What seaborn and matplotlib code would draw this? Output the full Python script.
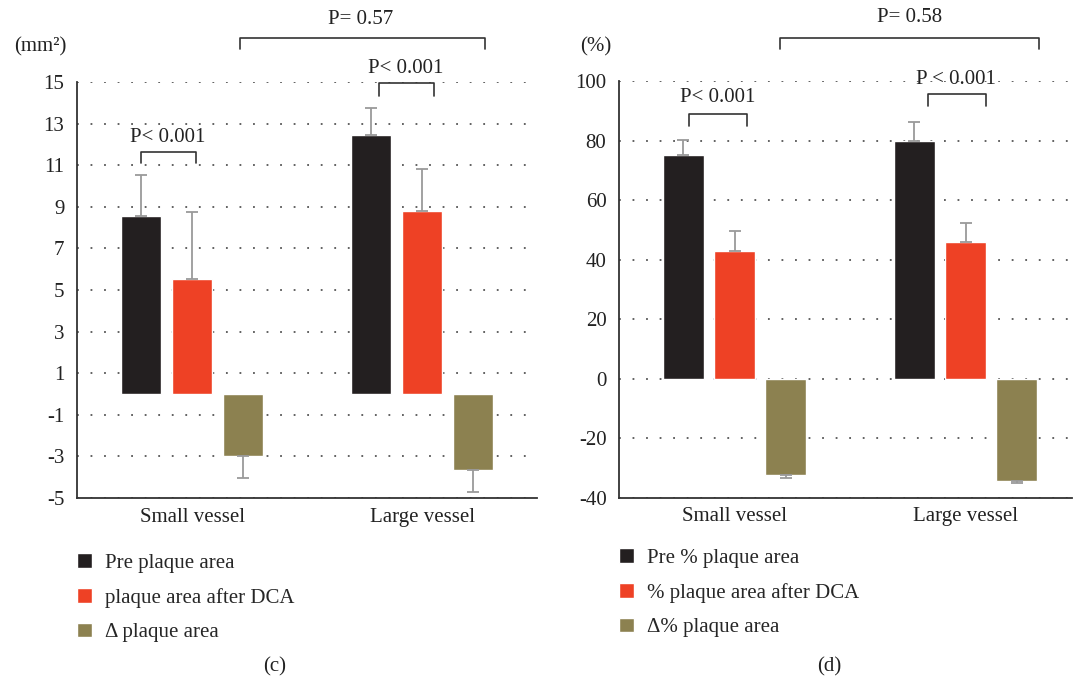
import matplotlib
matplotlib.use('Agg')
import matplotlib.pyplot as plt
import seaborn as sns
import pandas as pd

vessels = ['Small vessel', 'Large vessel']

# Panel (c): plaque area (mm2)
area_labels = ['Pre plaque area', 'plaque area after DCA', 'Δ plaque area']
area_pre = [8.55, 12.45]
area_post = [5.55, 8.80]
area_delta = [-3.00, -3.65]
area_pre_err = [2.0, 1.3]
area_post_err = [3.2, 2.0]
area_delta_err = [1.05, 1.05]
area_ticks = [-5, -3, -1, 1, 3, 5, 7, 9, 11, 13, 15]

# Panel (d): % plaque area
pct_labels = ['Pre % plaque area', '% plaque area after DCA', 'Δ% plaque area']
pct_pre = [75.0, 80.0]
pct_post = [43.0, 46.0]
pct_delta = [-32.3, -34.3]
pct_pre_err = [5.1, 6.3]
pct_post_err = [6.6, 6.3]
pct_delta_err = [1.0, 0.9]
pct_ticks = [-40, -20, 0, 20, 40, 60, 80, 100]

colors = ['#231f20', '#ee4125', '#8c8150']

sns.set_style('white')
plt.rcParams['font.family'] = ['Liberation Serif', 'DejaVu Serif']
FS = 15

fig = plt.figure(figsize=(10.73, 6.8), dpi=100)
axL = fig.add_axes([77/1073, 1-498/680, 460/1073, 416/680])
axR = fig.add_axes([619/1073, 1-497.7/680, 453/1073, 416.7/680])


def make_df(labels, series):
    rows = []
    for lab, vals in zip(labels, series):
        for v, val in zip(vessels, vals):
            rows.append({'vessel': v, 'measure': lab, 'value': val})
    return pd.DataFrame(rows)


def draw_panel(ax, labels, series, errs, ticks, ylim, xlim):
    df = make_df(labels, series)
    sns.barplot(data=df, x='vessel', y='value', hue='measure', order=vessels,
                hue_order=labels, palette=colors, width=0.665, gap=0.2,
                errorbar=None, saturation=1, ax=ax, zorder=2)
    for cont, err in zip(ax.containers, errs):
        for bar, e in zip(cont, err):
            xc = bar.get_x() + bar.get_width() / 2
            h = bar.get_height()
            if h >= 0:
                yerr = [[0], [e]]
            else:
                yerr = [[e], [0]]
            ax.errorbar([xc], [h], yerr=yerr, fmt='none', ecolor='#9a9a9a',
                        elinewidth=1.3, capsize=4.5, capthick=1.3, zorder=3)
    ax.set_ylim(*ylim)
    ax.set_xlim(*xlim)
    ax.set_yticks(ticks)
    ax.set_yticklabels([str(t) for t in ticks])
    ax.set_xlabel('')
    ax.set_ylabel('')
    ax.tick_params(axis='both', length=0, labelsize=FS, colors='#222222')
    ax.tick_params(axis='y', pad=9)
    ax.tick_params(axis='x', pad=7)
    ax.yaxis.grid(True, linestyle=(0, (1, 6.5)), color='#555555', linewidth=1.3)
    ax.xaxis.grid(False)
    ax.set_axisbelow(True)
    for s in ['top', 'right']:
        ax.spines[s].set_visible(False)
    for s in ['left', 'bottom']:
        ax.spines[s].set_color('#333333')
        ax.spines[s].set_linewidth(1.3)


def bracket(ax, x0, x1, ytop, ybot, text, tx, ty):
    ax.plot([x0, x0, x1, x1], [ybot, ytop, ytop, ybot], color='#333333',
            lw=1.2, clip_on=False, zorder=4)
    ax.text(tx, ty, text, ha='center', va='center', fontsize=FS,
            color='#222222', clip_on=False)


draw_panel(axL, area_labels, [area_pre, area_post, area_delta],
           [area_pre_err, area_post_err, area_delta_err], area_ticks,
           (-5, 15), (-0.5, 1.5))
draw_panel(axR, pct_labels, [pct_pre, pct_post, pct_delta],
           [pct_pre_err, pct_post_err, pct_delta_err], pct_ticks,
           (-40, 100), (-0.5, 1.461))

bracket(axL, 0.207, 1.272, 17.1, 16.57, 'P= 0.57', 0.735, 18.0)
bracket(axL, -0.22, 0.017, 11.65, 11.09, 'P< 0.001', -0.104, 12.35)
bracket(axL, 0.812, 1.05, 14.94, 14.34, 'P< 0.001', 0.928, 15.67)

bracket(axR, 0.198, 1.32, 114.4, 110.7, 'P= 0.58', 0.757, 121.3)
bracket(axR, -0.197, 0.055, 89.0, 85.0, 'P< 0.001', -0.072, 94.5)
bracket(axR, 0.837, 1.088, 95.7, 91.6, 'P < 0.001', 0.96, 100.6)

fig.text(40/1073, 1-47/680, '(mm²)', ha='center', va='center', fontsize=FS, color='#222222')
fig.text(596/1073, 1-47/680, '(%)', ha='center', va='center', fontsize=FS, color='#222222')

for ax, x0, y0 in [(axL, 77, 553), (axR, 619, 548)]:
    sns.move_legend(ax, 'upper left', bbox_to_anchor=(x0/1073, 1-y0/680),
                    bbox_transform=fig.transFigure, frameon=False, title=None,
                    fontsize=FS, handlelength=0.72, handleheight=0.72,
                    handletextpad=0.64, labelspacing=0.72, borderpad=0,
                    borderaxespad=0)

fig.text(275/1073, 1-667/680, '(c)', ha='center', va='center', fontsize=FS, color='#222222')
fig.text(829/1073, 1-667/680, '(d)', ha='center', va='center', fontsize=FS, color='#222222')

fig.savefig('out.png', dpi=100)
